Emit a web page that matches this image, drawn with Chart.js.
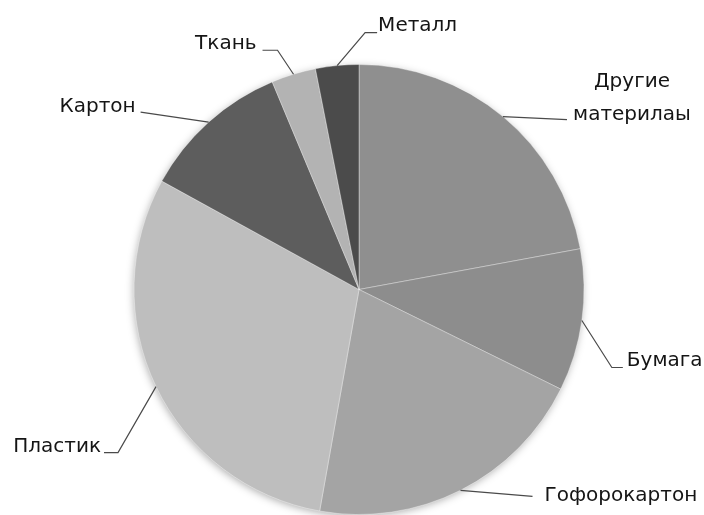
<!DOCTYPE html>
<html>
<head>
<meta charset="utf-8">
<script src="https://cdn.jsdelivr.net/npm/chart.js@4"></script>
<style>
  html, body { margin: 0; padding: 0; background: #fff; }
  #wrap { width: 704px; height: 515px; position: relative; }
</style>
</head>
<body>
<div id="wrap"><canvas id="pieChart"></canvas></div>
<script>
// slice data, clockwise from 12 o'clock
const labels = ['Другие материлаы', 'Бумага', 'Гофорокартон', 'Пластик', 'Картон', 'Ткань', 'Металл'];
const values = [22.1, 10.2, 20.5, 30.2, 10.7, 3.2, 3.1];
const colors = ['#8f8f8f', '#8d8d8d', '#a4a4a4', '#bebebe', '#5d5d5d', '#b3b3b3', '#4b4b4b'];

// label placement relative to the slice edge point: elbow, tail, text offset
const labelLayout = [
    { lines: ['Другие', 'материлаы'], elbow: [64, 3], tail: 0, align: 'center', tx: 129, ty: -35, gap: 33 },
    { lines: ['Бумага'], elbow: [30, 47], tail: 11, align: 'left', tx: 45, ty: 40 },
    { lines: ['Гофорокартон'], elbow: [72, 6], tail: 0, align: 'left', tx: 84, ty: 6 },
    { lines: ['Пластик'], elbow: [-38, 66], tail: -14, align: 'right', tx: -55, ty: 60 },
    { lines: ['Картон'], elbow: [-68, -10], tail: 0, align: 'right', tx: -73, ty: -15 },
    { lines: ['Ткань'], elbow: [-16, -24], tail: -15, align: 'right', tx: -37, ty: -30 },
    { lines: ['Металл'], elbow: [28, -33], tail: 12, align: 'left', tx: 41, ty: -40 }
];

const pieShadow = {
    id: 'pieShadow',
    beforeDatasetsDraw(chart) {
        const arc = chart.getDatasetMeta(0).data[0];
        if (!arc) return;
        const ctx = chart.ctx;
        ctx.save();
        ctx.shadowColor = 'rgba(0,0,0,0.35)';
        ctx.shadowBlur = 8;
        ctx.shadowOffsetX = -1;
        ctx.shadowOffsetY = 2;
        ctx.fillStyle = '#999';
        ctx.beginPath();
        ctx.arc(arc.x, arc.y, arc.outerRadius - 1, 0, Math.PI * 2);
        ctx.fill();
        ctx.restore();
    }
};

const leaderLabels = {
    id: 'leaderLabels',
    afterDatasetsDraw(chart) {
        const ctx = chart.ctx;
        const arcs = chart.getDatasetMeta(0).data;
        ctx.save();
        ctx.font = '20px "DejaVu Sans", sans-serif';
        ctx.fillStyle = '#151515';
        ctx.strokeStyle = '#4a4a4a';
        ctx.lineWidth = 1.2;
        ctx.textBaseline = 'middle';
        arcs.forEach((arc, i) => {
            const L = labelLayout[i];
            const mid = (arc.startAngle + arc.endAngle) / 2;
            const ex = arc.x + Math.cos(mid) * arc.outerRadius;
            const ey = arc.y + Math.sin(mid) * arc.outerRadius;
            const bx = ex + L.elbow[0], by = ey + L.elbow[1];
            ctx.beginPath();
            ctx.moveTo(ex, ey);
            ctx.lineTo(bx, by);
            if (L.tail) ctx.lineTo(bx + L.tail, by);
            ctx.stroke();
            ctx.textAlign = L.align;
            L.lines.forEach((t, k) => {
                ctx.fillText(t, ex + L.tx, ey + L.ty + k * (L.gap || 0));
            });
        });
        ctx.restore();
    }
};

new Chart(document.getElementById('pieChart'), {
    type: 'pie',
    data: {
        labels: labels,
        datasets: [{
            data: values,
            backgroundColor: colors,
            borderColor: 'rgba(255,255,255,0.35)',
            borderWidth: 1
        }]
    },
    options: {
        responsive: true,
        maintainAspectRatio: false,
        animation: false,
        layout: { padding: { left: 133, right: 119, top: 64, bottom: 0 } },
        plugins: {
            legend: { display: false },
            tooltip: { enabled: false }
        }
    },
    plugins: [pieShadow, leaderLabels]
});
</script>
</body>
</html>
